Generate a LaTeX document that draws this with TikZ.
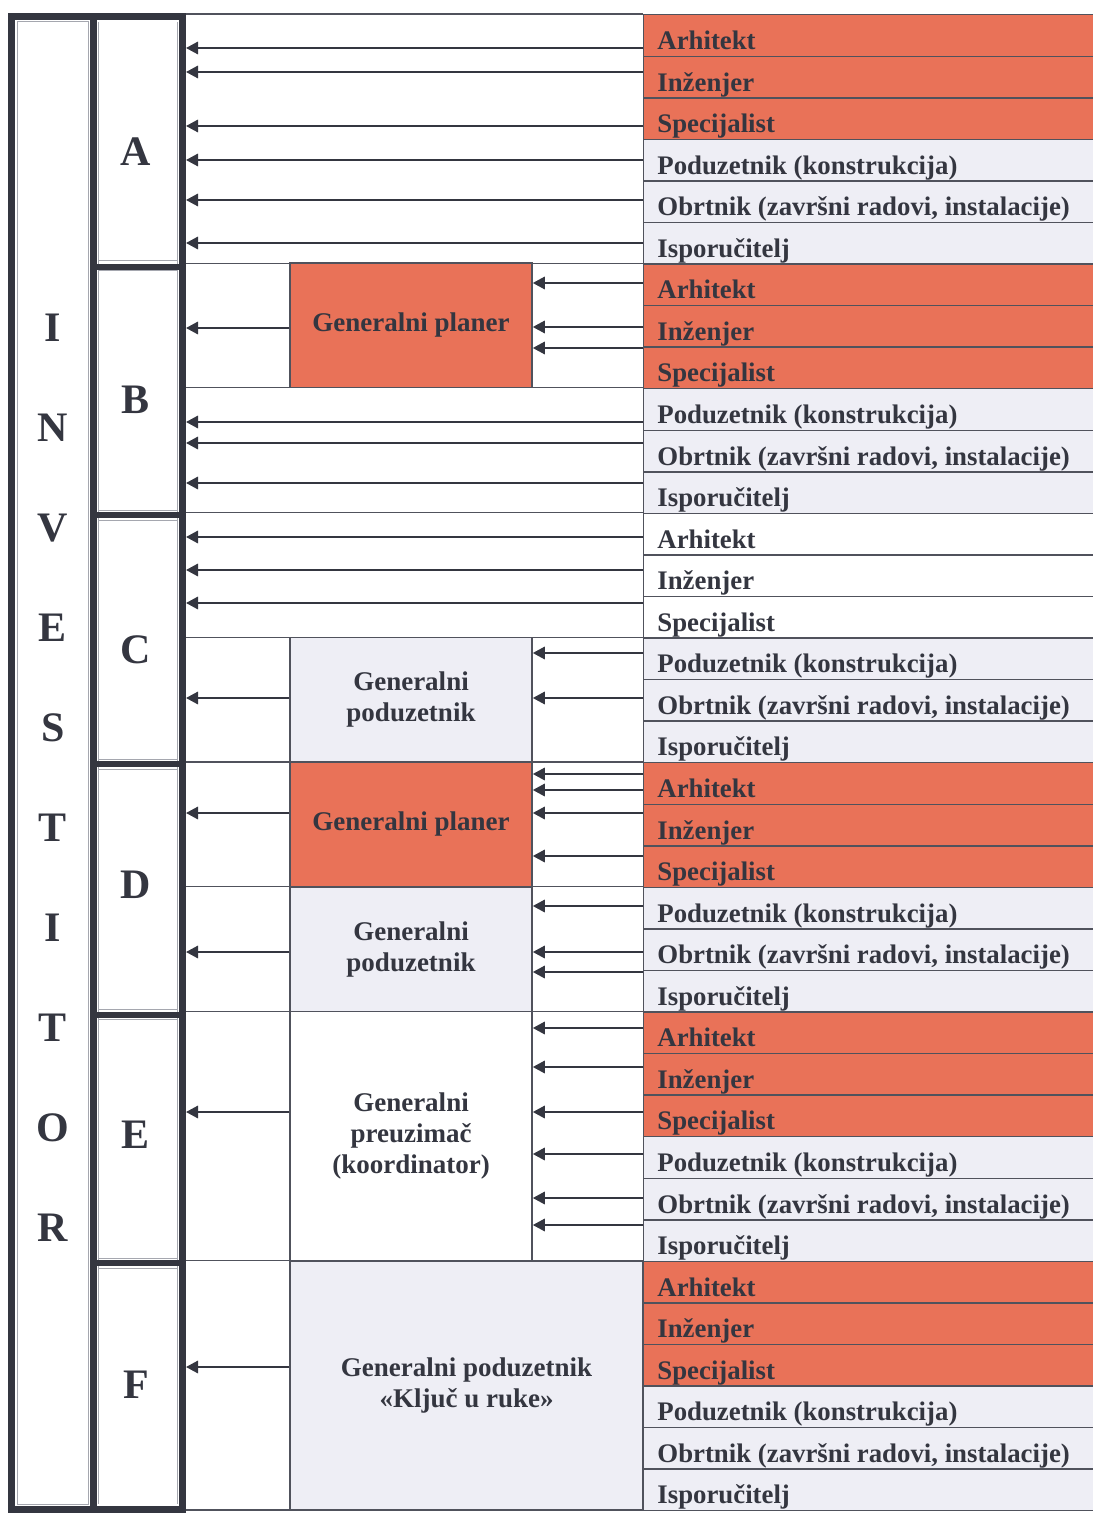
\documentclass[tikz,border=0pt]{standalone}
\usepackage{fontspec}
\setmainfont{Liberation Serif}
\usetikzlibrary{arrows.meta}
\definecolor{org}{RGB}{233,114,88}
\definecolor{lg}{RGB}{238,238,245}
\definecolor{ink}{RGB}{52,54,64}
\definecolor{ln}{RGB}{80,82,92}
\definecolor{pale}{RGB}{165,167,175}
\tikzset{
  rowbox/.style={draw=ln, line width=0.7pt, anchor=north west, minimum width=228.5pt, minimum height=20.778pt, inner sep=0pt},
  rowtext/.style={anchor=base west, inner sep=0pt, text=ink, font=\bfseries\fontsize{13.4pt}{16pt}\selectfont},
  genbox/.style={draw=ln, line width=0.8pt, text=ink, align=center, inner sep=0pt, font=\bfseries\fontsize{13.5pt}{15.5pt}\selectfont},
  bigletter/.style={text=ink, inner sep=0pt, font=\bfseries\fontsize{21pt}{24pt}\selectfont},
  arr/.style={draw=ink, line width=1pt, -{Triangle[length=6pt,width=6.2pt]}},
  hline/.style={draw=ln, line width=0.7pt},
  heavy/.style={draw=ink, line width=3.5pt},
  thinpale/.style={draw=pale, line width=0.5pt}
}
\begin{document}
\begin{tikzpicture}[x=0.5pt,y=-0.5pt]
\useasboundingbox (0,0) rectangle (1092,1513);
\fill[white] (0,0) rectangle (1092,1513);

% right column rows
\foreach \s in {0,...,5}{
  \foreach \k in {1,...,6}{
    \pgfmathtruncatemacro\i{6*\s+\k}
    \pgfmathsetmacro\ty{14+41.5556*(\i-1)}
    \ifnum\k<4 \ifnum\s=2 \def\rc{white}\else\def\rc{org}\fi\else\def\rc{lg}\fi
    \node[rowbox, fill=\rc] (r\i) at (643,\ty) {};
  }
}
\foreach \s in {0,...,5}{
  \foreach \k/\txt in {1/Arhitekt, 2/Inženjer, 3/Specijalist, 4/Poduzetnik (konstrukcija), 5/{Obrtnik (završni radovi, instalacije)}, 6/Isporučitelj}{
    \pgfmathtruncatemacro\i{6*\s+\k}
    \node[rowtext] (t\i) at ([shift={(14,-7.5)}]r\i.south west) {\txt};
  }
}

\coordinate (colW) at (643,0);
\coordinate (frameE) at (186,0);

% middle horizontal lines
\foreach \y in {14,263.3,387.7,512.7,637.3,762,886.7,1011.3,1260.7,1510}{
  \draw[hline] (frameE |- 0,\y) -- (colW |- 0,\y);
}

% intermediate boxes
\node[genbox, fill=org, minimum width=121pt, minimum height=62.2pt] (gpB) at (411,325.5) {Generalni planer};
\node[genbox, fill=lg, minimum width=121pt, minimum height=62.35pt] (gpodC) at (411,699.65) {Generalni\\poduzetnik};
\node[genbox, fill=org, minimum width=121pt, minimum height=62.35pt] (gpD) at (411,824.35) {Generalni planer};
\node[genbox, fill=lg, minimum width=121pt, minimum height=62.3pt] (gpodD) at (411,949) {Generalni\\poduzetnik};
\node[genbox, fill=white, minimum width=121pt, minimum height=124.7pt] (gprE) at (411,1136) {Generalni\\preuzimač\\(koordinator)};
\node[genbox, fill=lg, minimum width=176.5pt, minimum height=124.65pt] (gpodF) at (466.5,1385.35) {Generalni poduzetnik\\«Ključ u ruke»};

% left frame
\draw[thinpale] (17.5,22) rectangle (88,1504);
\draw[thinpale] (98.5,22) -- (98.5,1504);
\draw[thinpale] (177,22) -- (177,1504);
\foreach \y in {262,511,760,1010,1259}{
  \draw[thinpale] (98.5,\y-1) -- (177,\y-1);
  \draw[thinpale] (98.5,\y+9) -- (177,\y+9);
}
\draw[heavy] (11.5,16.5) rectangle (182.5,1509.5);
\draw[heavy] (93.5,16.5) -- (93.5,1509.5);
\foreach \y in {267,515,764,1015,1263}{
  \draw[draw=ink, line width=3pt] (93.5,\y) -- (182.5,\y);
}

% INVESTITOR
\foreach \c [count=\n from 0] in {I,N,V,E,S,T,I,T,O,R}{
  \node[bigletter] (inv\n) at (53,328+100*\n) {\c};
}
% section letters
\node[bigletter] (secA) at (136,152) {A};
\node[bigletter] (secB) at (136,400) {B};
\node[bigletter] (secC) at (136,650) {C};
\node[bigletter] (secD) at (136,885) {D};
\node[bigletter] (secE) at (136,1135) {E};
\node[bigletter] (secF) at (136,1385) {F};

% arrows section A
\foreach \y in {48,72,126,160,200,243}{
  \draw[arr] (colW |- 0,\y) -- (frameE |- 0,\y);
}
% section B
\foreach \y in {283,327,348}{
  \draw[arr] (colW |- 0,\y) -- (gpB.east |- 0,\y);
}
\draw[arr] (gpB.west |- 0,328) -- (frameE |- 0,328);
\foreach \y in {422,443,483}{
  \draw[arr] (colW |- 0,\y) -- (frameE |- 0,\y);
}
% section C
\foreach \y in {537,570,603}{
  \draw[arr] (colW |- 0,\y) -- (frameE |- 0,\y);
}
\foreach \y in {653,698}{
  \draw[arr] (colW |- 0,\y) -- (gpodC.east |- 0,\y);
}
\draw[arr] (gpodC.west |- 0,698) -- (frameE |- 0,698);
% section D
\foreach \y in {774,790,813,856}{
  \draw[arr] (colW |- 0,\y) -- (gpD.east |- 0,\y);
}
\draw[arr] (gpD.west |- 0,813) -- (frameE |- 0,813);
\foreach \y in {906,952,972}{
  \draw[arr] (colW |- 0,\y) -- (gpodD.east |- 0,\y);
}
\draw[arr] (gpodD.west |- 0,952) -- (frameE |- 0,952);
% section E
\foreach \y in {1028,1067,1112,1154,1198,1225}{
  \draw[arr] (colW |- 0,\y) -- (gprE.east |- 0,\y);
}
\draw[arr] (gprE.west |- 0,1112) -- (frameE |- 0,1112);
% section F
\draw[arr] (gpodF.west |- 0,1367) -- (frameE |- 0,1367);
\end{tikzpicture}
\end{document}
